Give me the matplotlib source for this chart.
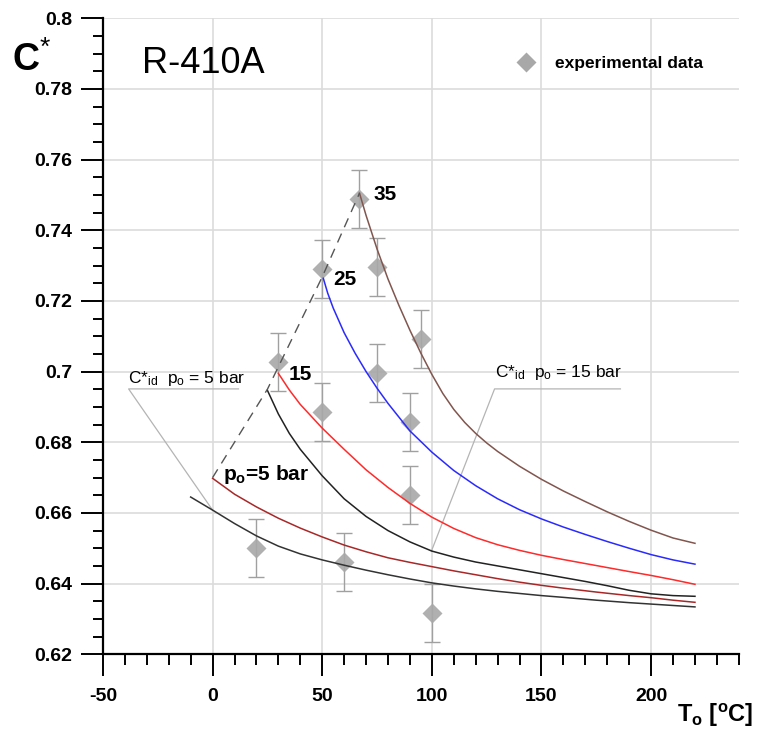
import numpy as np
import matplotlib
matplotlib.use("Agg")
import matplotlib.pyplot as plt
from matplotlib.ticker import MultipleLocator, FixedLocator
from matplotlib.lines import Line2D

plt.rcParams['font.family'] = ['Liberation Sans', 'DejaVu Sans']
plt.rcParams['mathtext.fontset'] = 'custom'
plt.rcParams['mathtext.rm'] = 'Liberation Sans'
plt.rcParams['mathtext.bf'] = 'Liberation Sans:bold'
plt.rcParams['mathtext.it'] = 'Liberation Sans:italic'

# experimental data (T_o in degC, C*)
T_exp = [20, 30, 50, 50, 60, 67, 75, 75, 90, 90, 95, 100]
C_exp = [0.650, 0.7026, 0.6885, 0.729, 0.646, 0.7488, 0.7296, 0.6997, 0.6857, 0.665, 0.7092, 0.6316]
C_err = [0.0082] * 12

# C*id po = 5 bar
T_id5 = [-10, 0, 10, 20, 30, 40, 50, 60, 70, 80, 90, 100, 110, 120, 130, 140, 150, 160, 175, 190, 200, 210, 220]
C_id5 = [0.6645, 0.6608, 0.6570, 0.6535, 0.6506, 0.6484, 0.6467, 0.6452, 0.6438, 0.6425, 0.6413, 0.6402,
         0.6393, 0.6385, 0.6378, 0.6372, 0.6366, 0.6361, 0.6353, 0.6346, 0.6342, 0.6338, 0.6334]
# po = 5 bar
T_p5 = [0, 10, 20, 30, 40, 50, 60, 70, 80, 90, 100, 110, 120, 130, 140, 150, 160, 175, 190, 200, 210, 220]
C_p5 = [0.6698, 0.6653, 0.6617, 0.6585, 0.6557, 0.6532, 0.6509, 0.6490, 0.6473, 0.6460, 0.6448, 0.6436,
        0.6425, 0.6414, 0.6404, 0.6395, 0.6387, 0.6376, 0.6366, 0.6360, 0.6353, 0.6347]
# C*id po = 15 bar
T_id15 = [25, 30, 35, 40, 50, 60, 70, 80, 90, 100, 110, 120, 130, 140, 150, 160, 170, 180, 190, 200, 210, 220]
C_id15 = [0.6947, 0.6880, 0.6825, 0.6780, 0.6705, 0.6640, 0.6590, 0.6550, 0.6518, 0.6492, 0.6475, 0.6461,
          0.6450, 0.6439, 0.6428, 0.6417, 0.6406, 0.6394, 0.6381, 0.6371, 0.6366, 0.6364]
# po = 15 bar
T_p15 = [30, 35, 40, 50, 60, 70, 80, 90, 100, 110, 120, 130, 140, 150, 160, 175, 190, 200, 210, 220]
C_p15 = [0.6995, 0.6948, 0.6907, 0.6840, 0.6780, 0.6722, 0.6672, 0.6627, 0.6588, 0.6556, 0.6530, 0.6510,
         0.6494, 0.6480, 0.6468, 0.6451, 0.6434, 0.6423, 0.6411, 0.6398]
# po = 25 bar
T_p25 = [50.5, 52.5, 55, 60, 65, 70, 75, 80, 90, 100, 110, 120, 130, 140, 150, 160, 170, 180, 190, 200, 210, 220]
C_p25 = [0.7264, 0.7222, 0.7180, 0.7110, 0.7052, 0.7000, 0.6953, 0.6910, 0.6832, 0.6772, 0.6720, 0.6677,
         0.6640, 0.6609, 0.6583, 0.6560, 0.6539, 0.6519, 0.6500, 0.6482, 0.6467, 0.6455]
# po = 35 bar
T_p35 = [67, 70, 75, 80, 85, 90, 95, 100, 105, 110, 115, 120, 125, 130, 140, 150, 160, 170, 180, 190, 200, 210, 220]
C_p35 = [0.7505, 0.7442, 0.7347, 0.7262, 0.7187, 0.7117, 0.7052, 0.6992, 0.6938, 0.6893, 0.6856, 0.6825,
         0.6798, 0.6774, 0.6732, 0.6695, 0.6662, 0.6632, 0.6603, 0.6576, 0.6551, 0.6529, 0.6514]
# dashed line through the starting points
T_dash = [0, 25, 50, 67]
C_dash = [0.670, 0.695, 0.7268, 0.7505]

x_major = [-50, 0, 50, 100, 150, 200]
y_major = [0.62, 0.64, 0.66, 0.68, 0.70, 0.72, 0.74, 0.76, 0.78, 0.80]
y_labels = ['0.62', '0.64', '0.66', '0.68', '0.7', '0.72', '0.74', '0.76', '0.78', '0.8']

fig = plt.figure(figsize=(7.57, 7.31), dpi=100)
ax = fig.add_axes([0.136, 0.105, 0.840, 0.870])
ax.set_xlim(-50, 240)
ax.set_ylim(0.62, 0.80)

ax.xaxis.set_major_locator(FixedLocator(x_major))
ax.xaxis.set_minor_locator(MultipleLocator(10))
ax.yaxis.set_major_locator(FixedLocator(y_major))
ax.yaxis.set_minor_locator(MultipleLocator(0.005))
ax.set_yticklabels(y_labels)
ax.set_xticklabels([str(v) for v in x_major])

ax.grid(True, which='major', color='#dcdcdc', lw=1.2, zorder=0)
ax.set_axisbelow(True)
for s in ['top', 'right']:
    ax.spines[s].set_visible(False)
for s in ['left', 'bottom']:
    ax.spines[s].set_linewidth(1.6)
ax.tick_params(axis='y', which='major', length=16, width=1.4, pad=6, labelsize=14)
ax.tick_params(axis='y', which='minor', length=7.5, width=1.4)
ax.tick_params(axis='x', which='major', length=15.5, width=1.4, pad=9, labelsize=14)
ax.tick_params(axis='x', which='minor', length=8, width=1.4)
for lab in ax.get_xticklabels() + ax.get_yticklabels():
    lab.set_fontweight('bold')

# experimental points
ax.errorbar(T_exp, C_exp, yerr=C_err, fmt='none', ecolor='#a0a0a0', elinewidth=1.0,
            capsize=6, capthick=1.0, zorder=2)
ax.plot(T_exp, C_exp, 'D', color='#a8a8a8', alpha=0.9, ms=10.5, mec='none', zorder=3)

# model curves
ax.plot(T_id5, C_id5, color='#333333', lw=1.1, zorder=4)
ax.plot(T_p5, C_p5, color='#a82828', lw=1.1, zorder=4)
ax.plot(T_id15, C_id15, color='#222222', lw=1.1, zorder=4)
ax.plot(T_p15, C_p15, color='#ff2a2a', lw=1.1, zorder=4)
ax.plot(T_p25, C_p25, color='#2a2aff', lw=1.1, zorder=4)
ax.plot(T_p35, C_p35, color='#80564e', lw=1.1, zorder=4)
ax.plot(T_dash, C_dash, color='#555555', lw=1.0, ls=(0, (7, 5)), zorder=4)

# pressure labels
ax.text(73.2, 0.7487, '35', fontsize=15, fontweight='bold', va='baseline')
ax.text(55, 0.7244, '25', fontsize=15, fontweight='bold', va='baseline')
ax.text(34.5, 0.6976, '15', fontsize=15, fontweight='bold', va='baseline')
ax.text(4.8, 0.6692, r'p$_{\mathbf{o}}$=5 bar', fontsize=15, fontweight='bold', va='baseline')

# leader annotations
ax.plot([11.8, -38.3, 0], [0.6951, 0.6951, 0.6608], color='#b4b4b4', lw=0.9, zorder=3)
ax.text(-38.5, 0.6967, r'C*$_{\rm id}$  p$_{\rm o}$ = 5 bar', fontsize=12.5, va='baseline')
ax.plot([186, 128.6, 99.8], [0.6951, 0.6951, 0.6492], color='#b4b4b4', lw=0.9, zorder=3)
ax.text(128.6, 0.6985, r'C*$_{\rm id}$  p$_{\rm o}$ = 15 bar', fontsize=12.5, va='baseline')

ax.text(-32.3, 0.7845, 'R-410A', fontsize=26, va='baseline')

handle = Line2D([], [], ls='none', marker='D', ms=10.5, color='#a8a8a8', mec='none')
ax.legend([handle], ['experimental data'], loc='center left', bbox_to_anchor=(0.651, 0.929),
          frameon=False, prop={'weight': 'bold', 'size': 12.5}, handlelength=1.0,
          handletextpad=1.2, borderpad=0, borderaxespad=0)

fig.text(12 / 757, 1 - 60 / 731, r'$\mathbf{C}^{\mathrm{*}}$', fontsize=27, va='center')
fig.text(753 / 757, 1 - 722 / 731, r'T$_{\mathbf{o}}$ [$^{\mathbf{o}}$C]', fontsize=17,
         fontweight='bold', va='baseline', ha='right')

fig.savefig('out.png', dpi=100)
